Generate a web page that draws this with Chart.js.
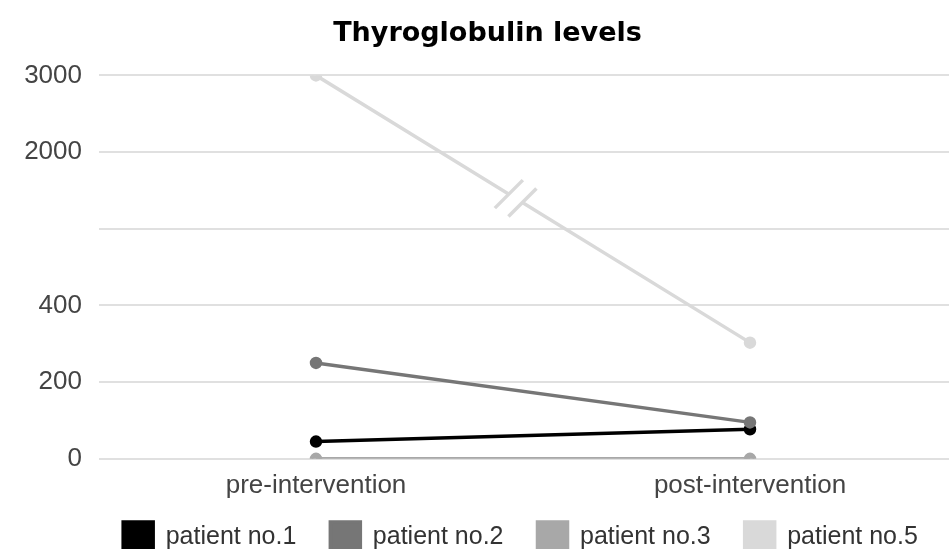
<!DOCTYPE html>
<html>
<head>
<meta charset="utf-8">
<script src="https://cdn.jsdelivr.net/npm/chart.js@4"></script>
<style>
html, body { margin: 0; padding: 0; background: #fff; overflow: hidden; }
#wrap { width: 975px; height: 578px; }
</style>
</head>
<body>
<div id="wrap"><canvas id="graph"></canvas></div>
<script>
var categories = ['pre-intervention', 'post-intervention']
var patientNames = ['patient no.1', 'patient no.2', 'patient no.3', 'patient no.5']
var patient1 = [45, 77]
var patient2 = [250, 95]
var patient3 = [0, 0]
var patient5 = [3000, 303]

// broken axis : each tick sits one step apart, the labels are not evenly spaced
var yTickValues = [0, 200, 400, 1200, 2000, 3000]
var yTickLabels = ['0', '200', '400', '', '2000', '3000']

function toAxis(v) {
	for (var i = 1; i < yTickValues.length; i++) {
		if (v <= yTickValues[i]) {
			return (i - 1) + (v - yTickValues[i - 1]) / (yTickValues[i] - yTickValues[i - 1])
		}
	}
	return yTickValues.length - 1
}

var colors = ['#000000', '#767676', '#a8a8a8', '#d9d9d9']
var series = [patient1, patient2, patient3, patient5]

var datasets = series.map(function (values, i) {
	return {
		label: patientNames[i],
		data: values.map(toAxis),
		borderColor: colors[i],
		backgroundColor: colors[i],
		borderWidth: 3.5,
		pointRadius: 4.5,
		pointHoverRadius: 4.5
	}
})
datasets.reverse()

// the "//" mark on the patient no.5 line
var breakPlugin = {
	id: 'breakMark',
	afterDatasetsDraw: function (chart) {
		var meta = chart.getDatasetMeta(0)
		var a = meta.data[0], b = meta.data[1]
		var t = 0.46
		var cx = a.x + (b.x - a.x) * t
		var cy = a.y + (b.y - a.y) * t
		var len = Math.hypot(b.x - a.x, b.y - a.y)
		var ux = (b.x - a.x) / len, uy = (b.y - a.y) / len
		var ctx = chart.ctx
		ctx.save()
		ctx.strokeStyle = '#ffffff'
		ctx.lineWidth = 6
		ctx.beginPath()
		ctx.moveTo(cx - ux * 8, cy - uy * 8)
		ctx.lineTo(cx + ux * 8, cy + uy * 8)
		ctx.stroke()
		ctx.strokeStyle = colors[3]
		ctx.lineWidth = 3.5
		var offs = [-8, 8]
		offs.forEach(function (o) {
			var px = cx + ux * o, py = cy + uy * o
			ctx.beginPath()
			ctx.moveTo(px - 14, py + 14)
			ctx.lineTo(px + 14, py - 14)
			ctx.stroke()
		})
		ctx.restore()
	},
	afterLayout: function (chart) {
		// legend sits a bit right of centre and close under the axis
		chart.legend.left += 33
		chart.legend.right += 33
		chart.legend.top -= 16
		chart.legend.bottom -= 16
	}
}

var ctx = document.getElementById('graph').getContext('2d')
var myChart = new Chart(ctx, {
	type: 'line',
	data: {
		labels: categories,
		datasets: datasets
	},
	plugins: [breakPlugin],
	options: {
		responsive: true,
		maintainAspectRatio: false,
		animation: false,
		layout: { padding: 0 },
		plugins: {
			title: {
				display: true,
				text: 'Thyroglobulin levels',
				color: '#000',
				font: { family: 'DejaVu Sans', size: 27, weight: 'bold' },
				padding: { top: 18, bottom: 25 }
			},
			legend: {
				position: 'bottom',
				reverse: true,
				labels: {
					boxWidth: 30,
					boxHeight: 30,
					padding: 34,
					color: '#333',
					font: { family: 'Liberation Sans', size: 25 }
				}
			},
			tooltip: { enabled: false }
		},
		scales: {
			x: {
				offset: true,
				grid: { display: false },
				border: { display: false },
				ticks: {
					color: '#444',
					padding: 3,
					font: { family: 'Liberation Sans', size: 26 }
				}
			},
			y: {
				min: 0,
				max: yTickValues.length - 1,
				afterFit: function (scale) { scale.width = 99 },
				grid: { color: '#e0e0e0', lineWidth: 2, drawTicks: false },
				border: { display: false },
				ticks: {
					stepSize: 1,
					padding: 17,
					color: '#444',
					font: { family: 'Liberation Sans', size: 26 },
					callback: function (value) { return yTickLabels[value] }
				}
			}
		}
	}
})
</script>
</body>
</html>
